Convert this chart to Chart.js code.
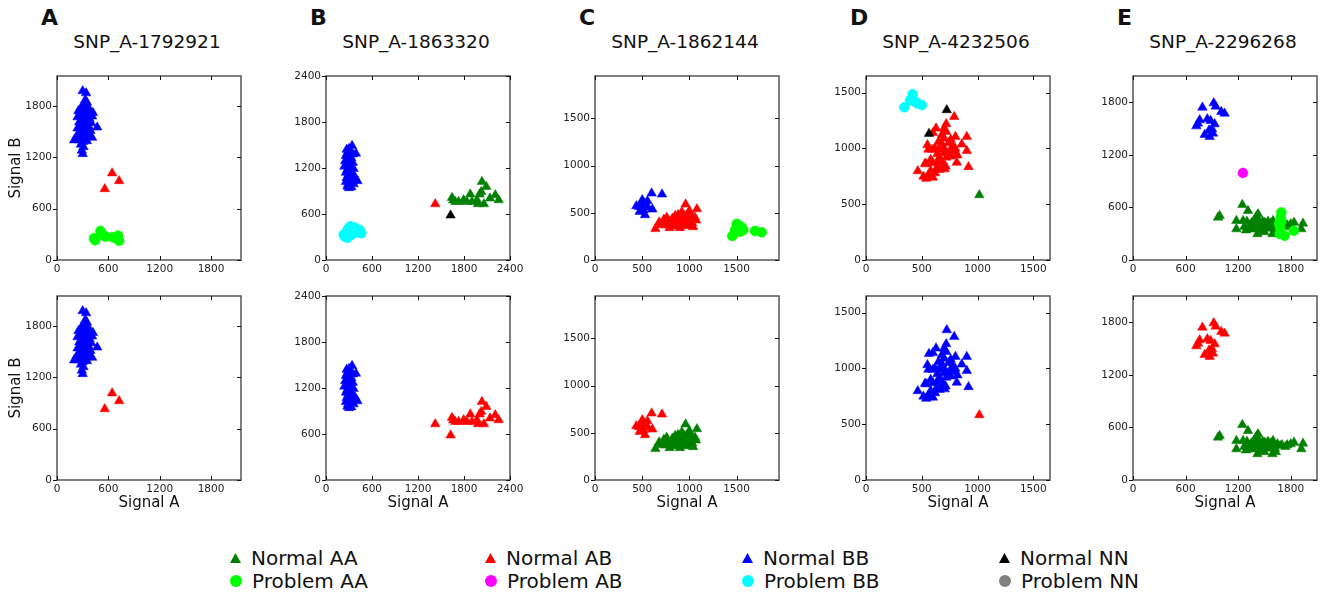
<!DOCTYPE html>
<html lang="en">
<head>
<meta charset="UTF-8">
<title>SNP genotype clusters</title>
<script src="https://cdn.jsdelivr.net/npm/chart.js"></script>
<style>
    body { margin: 0; width: 1323px; height: 594px; position: relative; overflow: hidden; background: #fff; font-family: 'DejaVu Sans', sans-serif; color: #111; }
    canvas { position: absolute; }
    .letter { position: absolute; font-weight: bold; font-size: 22px; line-height: 22px; }
    .snp { position: absolute; width: 184px; text-align: center; font-size: 18.5px; line-height: 18px; white-space: nowrap; }
    .leg { position: absolute; height: 22px; display: flex; align-items: center; font-size: 20px; white-space: nowrap; }
    .leg i { display: inline-block; margin-right: 10px; }
    .tri { width: 11px; height: 10px; clip-path: polygon(50% 0, 100% 100%, 0 100%); }
    .dot { width: 12px; height: 12px; border-radius: 50%; }
</style>
</head>
<body>
<script>
    // ---- data (Signal A, Signal B) ----
    const snpNames = ['SNP_A-1792921', 'SNP_A-1863320', 'SNP_A-1862144', 'SNP_A-4232506', 'SNP_A-2296268'];
    const panelLetters = ['A', 'B', 'C', 'D', 'E'];
    const axisMax = [2150, 2400, 1950, 1650, 2100];
    const tickVals = [
        [0, 600, 1200, 1800],
        [0, 600, 1200, 1800, 2400],
        [0, 500, 1000, 1500],
        [0, 500, 1000, 1500],
        [0, 600, 1200, 1800]
    ];

    const aBB = [[300,1975],[340,1950],[330,1870],[350,1840],[310,1800],[280,1780],[360,1780],[250,1740],[300,1750],[330,1730],
        [390,1740],[420,1720],[270,1700],[320,1690],[350,1700],[410,1680],[240,1670],[290,1650],[330,1640],[380,1650],
        [300,1620],[260,1610],[350,1600],[400,1600],[280,1580],[320,1570],[370,1560],[470,1550],[240,1540],[300,1530],
        [340,1520],[390,1510],[260,1490],[310,1480],[360,1470],[230,1450],[280,1440],[330,1430],[410,1430],[200,1400],
        [260,1400],[300,1380],[350,1390],[280,1350],[310,1320],[290,1280],[300,1240]];
    const aAB = [[558,830],[644,1015],[726,924]];
    const aProbAA = [[433,254],[445,230],[508,339],[540,290],[566,273],[648,265],[700,250],[714,284],[726,226]];

    const bBB = [[340,1490],[300,1450],[270,1440],[390,1390],[320,1420],[280,1400],[350,1380],[260,1360],[300,1350],[330,1330],
        [280,1310],[250,1290],[310,1290],[350,1270],[270,1250],[300,1230],[240,1220],[330,1210],[360,1190],[280,1180],
        [310,1160],[260,1140],[340,1130],[290,1110],[320,1090],[380,1080],[270,1070],[300,1050],[350,1040],[410,1030],
        [260,1020],[320,1010],[290,990],[360,990],[280,960],[330,950],[300,940]];
    const bProbBB = [[230,330],[250,300],[270,370],[290,410],[320,440],[350,380],[380,420],[410,360],[440,390],[460,350],[330,330],[280,290]];
    const bAB = [[1425,730]];
    const bNN = [[1625,583]];
    const bAA = [[1643,812],[1687,760],[1730,760],[1795,782],[1839,760],[1882,857],[1904,760],[1969,782],[1982,730],[2004,857],
        [2025,890],[2034,1021],[2060,730],[2091,956],[2139,804],[2208,847],[2252,782],[1660,780]];

    const cBB = [[600,707],[710,696],[501,636],[466,565],[556,625],[515,530],[608,537],[530,477],[438,572],[473,512],[520,600],[560,560],[490,560]];
    const cAB = [[640,330],[680,400],[700,380],[730,430],[750,370],[770,410],[790,340],[800,390],[820,440],[840,400],
        [850,470],[860,370],[870,420],[880,480],[890,360],[900,400],[910,450],[920,510],[930,380],[940,420],
        [950,470],[960,590],[960,360],[970,440],[980,400],[990,500],[1000,370],[1010,430],[1020,460],[1030,390],
        [1040,350],[1060,450],[1080,540],[1070,420],[830,360],[760,450],[720,370],[900,340],[1000,520],[880,430]];
    const cProbAA = [[1455,254],[1484,318],[1502,382],[1520,371],[1537,300],[1555,346],[1572,318],[1696,307],[1767,293]];

    const dProbBB = [[344,1370],[395,1433],[419,1486],[440,1420],[460,1405],[500,1390]];
    const dNN = [[724,1345],[565,1133]];
    const dAB = [[791,1285],[719,1220],[628,1181],[700,1180],[720,1150],[600,1140],[680,1120],[904,1106],[802,1106],[760,1080],
        [700,1090],[650,1060],[551,1031],[620,1000],[680,1040],[740,1050],[780,1020],[859,1037],[560,990],[600,990],
        [660,990],[700,1000],[760,990],[800,970],[904,979],[820,940],[700,960],[640,950],[580,900],[660,920],
        [720,920],[760,930],[540,860],[600,870],[640,880],[680,870],[714,840],[814,874],[919,835],[630,820],
        [706,815],[580,800],[464,798],[530,865],[515,749],[560,760],[620,780],[660,810],[540,730],[600,740],
        [700,850],[800,1000],[740,960]];
    const dAA = [[1016,583]];

    const eBB = [[792,1741],[921,1791],[944,1753],[1008,1692],[1046,1673],[742,1559],[761,1597],[848,1608],[886,1589],[932,1551],
        [723,1528],[902,1495],[818,1430],[875,1406],[913,1444],[868,1482]];
    const eProbAB = [[1255,993]];
    const eAA = [[1248,631],[989,505],[970,486],[1312,562],[1180,448],[1180,353],[1427,524],[1940,418],[1921,353],[1838,429],
        [1598,448],[1591,297],[1420,297],[1503,429],[1256,448],[1332,391],[1270,380],[1290,340],[1350,420],[1380,450],
        [1400,380],[1420,470],[1440,410],[1460,360],[1480,440],[1500,320],[1520,400],[1550,360],[1570,420],[1600,390],
        [1620,360],[1650,410],[1680,390],[1700,400],[1740,380],[1760,400],[1800,410],[1360,350],[1450,330],[1540,440],
        [1300,440],[1630,320],[1410,500],[1480,380]];
    const eProbAA = [[1693,543],[1686,486],[1675,417],[1693,440],[1667,412],[1731,277],[1834,334],[1675,297],[1680,360]];

    // ---- look of each class ----
    const classes = {
        'Normal AA':  { color: '#008000', shape: 'triangle' },
        'Problem AA': { color: '#00ff00', shape: 'circle' },
        'Normal AB':  { color: '#ff0000', shape: 'triangle' },
        'Problem AB': { color: '#ff00ff', shape: 'circle' },
        'Normal BB':  { color: '#0000ff', shape: 'triangle' },
        'Problem BB': { color: '#00ffff', shape: 'circle' },
        'Normal NN':  { color: '#000000', shape: 'triangle' },
        'Problem NN': { color: '#808080', shape: 'circle' }
    };

    // first entry is drawn on top
    const topRow = [
        [['Normal AB', aAB], ['Normal BB', aBB], ['Problem AA', aProbAA]],
        [['Normal NN', bNN], ['Normal AB', bAB], ['Normal AA', bAA], ['Normal BB', bBB], ['Problem BB', bProbBB]],
        [['Problem AA', cProbAA], ['Normal BB', cBB], ['Normal AB', cAB]],
        [['Normal AA', dAA], ['Normal NN', dNN], ['Normal AB', dAB], ['Problem BB', dProbBB]],
        [['Problem AB', eProbAB], ['Problem AA', eProbAA], ['Normal BB', eBB], ['Normal AA', eAA]]
    ];
    const bottomRow = [
        [['Normal AB', aAB], ['Normal BB', aBB]],
        [['Normal AB', bAA.concat(bAB, bNN)], ['Normal BB', bBB]],
        [['Normal AB', cBB], ['Normal AA', cAB]],
        [['Normal AB', dAA], ['Normal BB', dNN.concat(dAB)]],
        [['Normal AB', eBB], ['Normal AA', eAA]]
    ];

    // ---- layout ----
    const plotLeft = [57, 326, 595, 866, 1133];
    const plotTop = [76, 296];
    const side = 184;
    const yAxisW = 57, padTop = 8, padRight = 14, xAxisH = 35;

    Chart.defaults.font.family = "'DejaVu Sans', sans-serif";
    Chart.defaults.color = '#222';

    const frameTicks = {
        id: 'frameTicks',
        afterDatasetsDraw(chart) {
            const { ctx, chartArea: a, scales: { x, y } } = chart;
            ctx.save();
            ctx.strokeStyle = '#555';
            ctx.lineWidth = 1.5;
            ctx.strokeRect(a.left, a.top, a.right - a.left, a.bottom - a.top);
            ctx.strokeStyle = '#111';
            ctx.lineWidth = 1;
            ctx.beginPath();
            x.ticks.forEach(t => {
                const px = Math.round(x.getPixelForValue(t.value)) + 0.5;
                ctx.moveTo(px, a.top); ctx.lineTo(px, a.top + 4);
                ctx.moveTo(px, a.bottom); ctx.lineTo(px, a.bottom - 4);
            });
            y.ticks.forEach(t => {
                const py = Math.round(y.getPixelForValue(t.value)) + 0.5;
                ctx.moveTo(a.left - 4, py); ctx.lineTo(a.left, py);
                ctx.moveTo(a.right, py); ctx.lineTo(a.right - 4, py);
            });
            ctx.stroke();
            ctx.restore();
        }
    };

    function makePanel(col, row, series) {
        const cv = document.createElement('canvas');
        const W = yAxisW + side + padRight, H = padTop + side + xAxisH;
        cv.width = W; cv.height = H;
        cv.style.left = (plotLeft[col] - yAxisW) + 'px';
        cv.style.top = (plotTop[row] - padTop) + 'px';
        document.body.appendChild(cv);

        const ticks = tickVals[col];
        const datasets = series.map(([name, pts]) => {
            const c = classes[name];
            return {
                label: name,
                data: pts.map(p => ({ x: p[0], y: p[1] })),
                pointStyle: c.shape,
                pointRadius: c.shape === 'triangle' ? 5.5 : 5,
                backgroundColor: c.color,
                borderColor: c.color,
                borderWidth: 0.5
            };
        });

        new Chart(cv, {
            type: 'scatter',
            data: { datasets },
            options: {
                responsive: false,
                animation: false,
                layout: { padding: { left: 0, top: padTop, right: padRight, bottom: 0 } },
                plugins: { legend: { display: false }, tooltip: { enabled: false } },
                scales: {
                    x: {
                        type: 'linear', min: 0, max: axisMax[col],
                        afterBuildTicks: s => { s.ticks = ticks.map(v => ({ value: v })); },
                        afterFit: s => { s.height = xAxisH; s.paddingLeft = 0; s.paddingRight = 0; },
                        grid: { display: false, drawTicks: false },
                        border: { display: false },
                        ticks: { padding: 3, font: { size: 10.5 }, color: '#222', maxRotation: 0, autoSkip: false, callback: v => String(v) },
                        title: { display: row === 1, text: 'Signal A', font: { size: 15 }, color: '#111', padding: { top: 0, bottom: 3 } }
                    },
                    y: {
                        type: 'linear', min: 0, max: axisMax[col],
                        afterBuildTicks: s => { s.ticks = ticks.map(v => ({ value: v })); },
                        afterFit: s => { s.width = yAxisW; s.paddingTop = 0; s.paddingBottom = 0; },
                        grid: { display: false, drawTicks: false },
                        border: { display: false },
                        ticks: { padding: 5, font: { size: 10.5 }, color: '#222', autoSkip: false, callback: v => String(v) },
                        title: { display: col === 0, text: 'Signal B', font: { size: 15 }, color: '#111', padding: { top: 7, bottom: 0 } }
                    }
                }
            },
            plugins: [frameTicks]
        });
    }

    for (let c = 0; c < 5; c++) {
        const letter = document.createElement('div');
        letter.className = 'letter';
        letter.textContent = panelLetters[c];
        letter.style.left = (plotLeft[c] - 16) + 'px';
        letter.style.top = '7px';
        document.body.appendChild(letter);

        const title = document.createElement('div');
        title.className = 'snp';
        title.textContent = snpNames[c];
        title.style.left = (plotLeft[c] - 2) + 'px';
        title.style.top = '33px';
        document.body.appendChild(title);

        makePanel(c, 0, topRow[c]);
        makePanel(c, 1, bottomRow[c]);
    }

    // ---- shared legend ----
    const legendOrder = [
        ['Normal AA', 'Problem AA'],
        ['Normal AB', 'Problem AB'],
        ['Normal BB', 'Problem BB'],
        ['Normal NN', 'Problem NN']
    ];
    const legendX = [230, 485, 742, 999];
    const legendY = [558, 581];
    legendOrder.forEach((pair, i) => {
        pair.forEach((name, j) => {
            const c = classes[name];
            const item = document.createElement('div');
            item.className = 'leg';
            item.style.left = legendX[i] + 'px';
            item.style.top = (legendY[j] - 11) + 'px';
            const mark = document.createElement('i');
            mark.className = c.shape === 'triangle' ? 'tri' : 'dot';
            mark.style.background = c.color;
            item.appendChild(mark);
            item.appendChild(document.createTextNode(name));
            document.body.appendChild(item);
        });
    });
</script>
</body>
</html>
